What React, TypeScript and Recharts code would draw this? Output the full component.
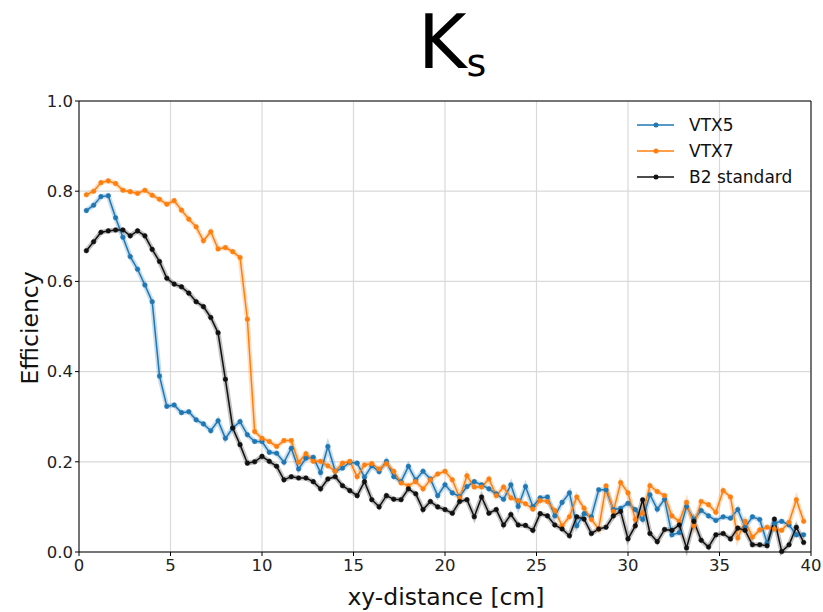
import React from 'react'
import { LineChart, Line, XAxis, YAxis, CartesianGrid, Legend, ReferenceLine } from 'recharts'

// bin centres of the xy-distance histogram [cm]
const xDistance = [
  0.4, 0.8, 1.2, 1.6, 2.0, 2.4, 2.8, 3.2, 3.6, 4.0,
  4.4, 4.8, 5.2, 5.6, 6.0, 6.4, 6.8, 7.2, 7.6, 8.0,
  8.4, 8.8, 9.2, 9.6, 10.0, 10.4, 10.8, 11.2, 11.6, 12.0,
  12.4, 12.8, 13.2, 13.6, 14.0, 14.4, 14.8, 15.2, 15.6, 16.0,
  16.4, 16.8, 17.2, 17.6, 18.0, 18.4, 18.8, 19.2, 19.6, 20.0,
  20.4, 20.8, 21.2, 21.6, 22.0, 22.4, 22.8, 23.2, 23.6, 24.0,
  24.4, 24.8, 25.2, 25.6, 26.0, 26.4, 26.8, 27.2, 27.6, 28.0,
  28.4, 28.8, 29.2, 29.6, 30.0, 30.4, 30.8, 31.2, 31.6, 32.0,
  32.4, 32.8, 33.2, 33.6, 34.0, 34.4, 34.8, 35.2, 35.6, 36.0,
  36.4, 36.8, 37.2, 37.6, 38.0, 38.4, 38.8, 39.2, 39.6,
]

const vtx5 = [
  0.757, 0.769, 0.788, 0.790, 0.741, 0.698, 0.655, 0.627, 0.592, 0.555,
  0.390, 0.323, 0.326, 0.309, 0.311, 0.293, 0.284, 0.269, 0.291, 0.252,
  0.275, 0.289, 0.260, 0.245, 0.245, 0.221, 0.219, 0.199, 0.230, 0.184,
  0.208, 0.210, 0.176, 0.234, 0.179, 0.186, 0.199, 0.197, 0.166, 0.191,
  0.178, 0.201, 0.167, 0.156, 0.190, 0.160, 0.179, 0.162, 0.125, 0.149,
  0.131, 0.123, 0.145, 0.156, 0.149, 0.140, 0.129, 0.117, 0.149, 0.101,
  0.145, 0.101, 0.120, 0.122, 0.080, 0.110, 0.131, 0.058, 0.085, 0.078,
  0.138, 0.138, 0.094, 0.097, 0.108, 0.094, 0.072, 0.127, 0.095, 0.117,
  0.038, 0.043, 0.101, 0.072, 0.092, 0.080, 0.070, 0.078, 0.075, 0.094,
  0.055, 0.078, 0.072, 0.020, 0.064, 0.068, 0.060, 0.038, 0.038,
]

const vtx7 = [
  0.792, 0.800, 0.819, 0.823, 0.817, 0.802, 0.799, 0.795, 0.802, 0.791,
  0.782, 0.771, 0.779, 0.758, 0.738, 0.721, 0.690, 0.710, 0.672, 0.675,
  0.666, 0.653, 0.516, 0.267, 0.252, 0.245, 0.234, 0.247, 0.247, 0.199,
  0.218, 0.201, 0.201, 0.191, 0.179, 0.197, 0.201, 0.167, 0.193, 0.196,
  0.184, 0.196, 0.179, 0.153, 0.147, 0.156, 0.140, 0.160, 0.173, 0.179,
  0.160, 0.120, 0.169, 0.144, 0.144, 0.162, 0.125, 0.144, 0.120, 0.114,
  0.107, 0.095, 0.114, 0.112, 0.092, 0.058, 0.078, 0.122, 0.097, 0.072,
  0.051, 0.147, 0.090, 0.154, 0.131, 0.072, 0.086, 0.147, 0.134, 0.125,
  0.080, 0.068, 0.110, 0.058, 0.112, 0.105, 0.088, 0.136, 0.122, 0.031,
  0.068, 0.033, 0.049, 0.055, 0.051, 0.048, 0.066, 0.116, 0.068,
]

const b2Standard = [
  0.668, 0.688, 0.709, 0.712, 0.714, 0.714, 0.701, 0.712, 0.701, 0.671,
  0.644, 0.607, 0.594, 0.588, 0.574, 0.555, 0.544, 0.520, 0.486, 0.383,
  0.275, 0.238, 0.197, 0.200, 0.212, 0.201, 0.190, 0.160, 0.167, 0.164,
  0.164, 0.156, 0.140, 0.162, 0.167, 0.147, 0.136, 0.125, 0.156, 0.116,
  0.100, 0.125, 0.117, 0.116, 0.140, 0.129, 0.094, 0.112, 0.100, 0.094,
  0.086, 0.112, 0.116, 0.078, 0.122, 0.086, 0.094, 0.060, 0.083, 0.060,
  0.059, 0.048, 0.085, 0.080, 0.060, 0.051, 0.036, 0.078, 0.073, 0.041,
  0.051, 0.055, 0.080, 0.090, 0.029, 0.058, 0.116, 0.041, 0.023, 0.050,
  0.048, 0.060, 0.009, 0.068, 0.026, 0.011, 0.038, 0.041, 0.029, 0.053,
  0.048, 0.016, 0.016, 0.014, 0.073, 0.001, 0.016, 0.055, 0.021,
]

const xTicks = [0, 5, 10, 15, 20, 25, 30, 35, 40]
const yTicks = [0, 0.2, 0.4, 0.6, 0.8, 1.0]

const series = [
  { key: 'vtx5', name: 'VTX5', color: '#1f77b4' },
  { key: 'vtx7', name: 'VTX7', color: '#ff7f0e' },
  { key: 'b2', name: 'B2 standard', color: '#111111' },
]

const data = xDistance.map((x, i) => ({
  x,
  vtx5: vtx5[i],
  vtx7: vtx7[i],
  b2: b2Standard[i],
}))

const FONT = '"DejaVu Sans", sans-serif'
const tickStyle = { fontFamily: FONT, fontSize: 16.5, fill: '#222' }

const renderLegend = () => (
  <div style={{ fontFamily: FONT, fontSize: 17, color: '#111' }}>
    {series.map(s => (
      <div key={s.key} style={{ display: 'flex', alignItems: 'center', height: 26 }}>
        <svg width={38} height={10}>
          <line x1={0} y1={5} x2={37} y2={5} stroke={s.color} strokeWidth={1.5} />
          <circle cx={19} cy={5} r={2.5} fill={s.color} />
        </svg>
        <span style={{ marginLeft: 14 }}>{s.name}</span>
      </div>
    ))}
  </div>
)

export default function App() {
  return (
    <div style={{ position: 'absolute', left: 0, top: 0, width: 823, height: 612, background: '#fff' }}>
      <LineChart width={823} height={612} data={data} margin={{ top: 101, right: 12, left: 0, bottom: 0 }}>
        <CartesianGrid stroke="#d9d9d9" strokeWidth={1.2} />
        <XAxis
          dataKey="x"
          type="number"
          domain={[0, 40]}
          ticks={xTicks}
          height={60}
          tick={tickStyle}
          tickSize={4}
          tickMargin={3}
          stroke="#000"
          allowDataOverflow
        />
        <YAxis
          type="number"
          domain={[0, 1]}
          ticks={yTicks}
          width={79}
          tick={tickStyle}
          tickSize={4}
          tickMargin={2}
          tickFormatter={(v: number) => v.toFixed(1)}
          stroke="#000"
        />
        <ReferenceLine y={1} stroke="#000" />
        <ReferenceLine x={40} stroke="#000" />
        {series.map(s => (
          <Line
            key={s.key + '-band'}
            dataKey={s.key}
            stroke={s.color}
            strokeOpacity={0.25}
            strokeWidth={5}
            dot={false}
            activeDot={false}
            legendType="none"
            isAnimationActive={false}
          />
        ))}
        {series.map(s => (
          <Line
            key={s.key}
            dataKey={s.key}
            name={s.name}
            stroke={s.color}
            strokeWidth={1.5}
            dot={{ r: 2.3, fill: s.color, stroke: s.color, strokeWidth: 0.5 }}
            activeDot={false}
            isAnimationActive={false}
          />
        ))}
        <Legend
          content={renderLegend}
          layout="vertical"
          align="center"
          verticalAlign="middle"
          wrapperStyle={{ position: 'absolute', left: 637, top: 112, width: 'auto' }}
        />
      </LineChart>
      <svg
        width={823}
        height={612}
        style={{ position: 'absolute', left: 0, top: 0, pointerEvents: 'none' }}
      >
        <text x={418} y={68} fontFamily={FONT} fontSize={74} fill="#000">
          K
          <tspan fontSize={38} dy={8}>s</tspan>
        </text>
        <text
          x={0}
          y={0}
          transform="translate(38,328) rotate(-90)"
          textAnchor="middle"
          fontFamily={FONT}
          fontSize={23.5}
          fill="#111"
        >
          Efficiency
        </text>
        <text x={446} y={605} textAnchor="middle" fontFamily={FONT} fontSize={23.5} fill="#111">
          xy-distance [cm]
        </text>
      </svg>
    </div>
  )
}
